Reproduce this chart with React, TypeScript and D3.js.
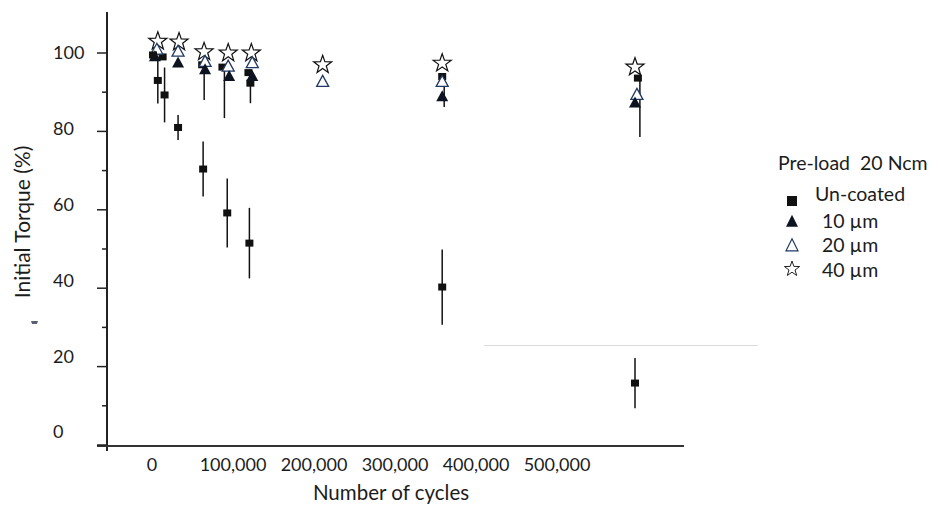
import React from 'react'
import * as d3 from 'd3'

// cycles, torque (%), optional symmetric error or lower end of bar
const uncoated = [
  { x: 0, y: 99.5 },
  { x: 5000, y: 93, err: 5.9 },
  { x: 12000, y: 89.3, err: 7 },
  { x: 26000, y: 81, err: 3.2 },
  { x: 52000, y: 70.4, err: 7 },
  { x: 77000, y: 59.2, err: 8.8 },
  { x: 100000, y: 51.5, err: 9 },
  { x: 300000, y: 40.3, err: 9.6 },
  { x: 500000, y: 15.8, err: 6.4 },
]
// dark squares hidden in the top cluster
const uncoatedTop = [
  { x: 10000, y: 99 },
  { x: 51000, y: 97, lo: 88 },
  { x: 72000, y: 96.4, lo: 83.4 },
  { x: 99000, y: 95, lo: 87.2 },
  { x: 101000, y: 92.3 },
  { x: 300000, y: 94, lo: 86.2 },
  { x: 503000, y: 93.6, lo: 78.6 },
]
const um10 = [
  { x: 2000, y: 99 },
  { x: 26000, y: 97.4 },
  { x: 54000, y: 95.7 },
  { x: 79000, y: 94 },
  { x: 103000, y: 94 },
  { x: 300000, y: 88.8 },
  { x: 500000, y: 87.2 },
]
const um20 = [
  { x: 4000, y: 100.8 },
  { x: 26000, y: 100.3 },
  { x: 54000, y: 97.7 },
  { x: 78000, y: 96.5 },
  { x: 103000, y: 97.4 },
  { x: 176000, y: 92.6 },
  { x: 300000, y: 92.6 },
  { x: 502000, y: 89.3 },
]
const um40 = [
  { x: 5000, y: 103 },
  { x: 27000, y: 102.8 },
  { x: 53000, y: 100.3 },
  { x: 78000, y: 100 },
  { x: 102000, y: 100 },
  { x: 176000, y: 97 },
  { x: 300000, y: 97.4 },
  { x: 500000, y: 96.4 },
]

const yTicks = [0, 20, 40, 60, 80, 100]
const yMinorTicks = [10, 30, 50, 70, 90]
const xTickLabels = [0, 100000, 200000, 300000, 400000, 500000]
const legendItems = ['Un-coated', '10 µm', '20 µm', '40 µm']

const FONT = 'Lato, "Open Sans", sans-serif'
const INK = '#1c1c1c'

function starPath(R: number) {
  const r = R * 0.4
  const pts: [number, number][] = []
  for (let i = 0; i < 10; i++) {
    const a = (Math.PI / 5) * i - Math.PI / 2
    const rr = i % 2 === 0 ? R : r
    pts.push([Math.cos(a) * rr, Math.sin(a) * rr])
  }
  return d3.line()(pts) + 'Z'
}

function triPath(w: number, h: number) {
  return `M0,${-h * 0.6}L${w / 2},${h * 0.4}L${-w / 2},${h * 0.4}Z`
}

function squarePath(w: number, h: number) {
  return `M${-w / 2},${-h / 2}h${w}v${h}h${-w}Z`
}

export default function App() {
  const width = 938
  const height = 506

  const x = d3.scaleLinear().domain([0, 500000]).range([153, 635])
  const y = d3.scaleLinear().domain([0, 100]).range([445, 53])
  // tick labels in the picture sit on their own spacing
  const xLabel = d3.scaleLinear().domain([0, 500000]).range([152, 557])
  const yLabel = d3.scaleLinear().domain([0, 100]).range([432, 53])
  const fmt = d3.format(',')

  const star = starPath(9.5)
  const tri = triPath(12, 11)
  const sq = squarePath(8, 7)

  return (
    <svg
      width={width}
      height={height}
      style={{ position: 'absolute', left: 0, top: 0, background: '#fff' }}
      fontFamily={FONT}
    >
      {/* axes */}
      <line x1={107} x2={107} y1={12} y2={451} stroke="#222" strokeWidth={2} />
      <line x1={97} x2={684} y1={446} y2={446} stroke="#333" strokeWidth={2} />
      {yTicks.map((t) => (
        <line key={'yt' + t} x1={97} x2={107} y1={y(t)} y2={y(t)} stroke="#222" strokeWidth={1.5} />
      ))}
      {yMinorTicks.map((t) => (
        <line key={'ym' + t} x1={102} x2={107} y1={y(t)} y2={y(t)} stroke="#222" strokeWidth={1.5} />
      ))}
      {yTicks.map((t) => (
        <text key={'yl' + t} x={53} y={yLabel(t)} dy="0.35em" fontSize={18} fill={INK}>
          {t}
        </text>
      ))}
      {xTickLabels.map((t) => (
        <text key={'xl' + t} x={xLabel(t)} y={465} dy="0.35em" textAnchor="middle" fontSize={18} fill={INK}>
          {fmt(t)}
        </text>
      ))}
      <text x={391} y={493} dy="0.35em" textAnchor="middle" fontSize={20.5} fill={INK}>
        Number of cycles
      </text>
      <text
        transform="translate(23,222) rotate(-90)"
        dy="0.35em"
        textAnchor="middle"
        fontSize={21}
        fill={INK}
      >
        Initial Torque (%)
      </text>
      {/* stray marks in the original */}
      <path d="M31,321 h7 l-1,3 h-5 Z" fill="#5a6070" />
      <line x1={484} x2={758} y1={345.5} y2={345.5} stroke="#dcdcdc" strokeWidth={1} />

      {/* error bars */}
      {uncoated
        .filter((d) => d.err)
        .map((d, i) => (
          <line key={'eu' + i} x1={x(d.x)} x2={x(d.x)} y1={y(d.y + d.err!)} y2={y(d.y - d.err!)} stroke="#111" strokeWidth={1.5} />
        ))}
      {uncoatedTop
        .filter((d) => d.lo)
        .map((d, i) => (
          <line key={'et' + i} x1={x(d.x) + 2} x2={x(d.x) + 2} y1={y(d.y)} y2={y(d.lo!)} stroke="#111" strokeWidth={1.5} />
        ))}

      {/* markers */}
      {um40.map((d, i) => (
        <path key={'s' + i} d={star} transform={`translate(${x(d.x)},${y(d.y)})`} fill="#fff" stroke="#111" strokeWidth={1.2} />
      ))}
      {uncoatedTop.map((d, i) => (
        <path key={'qt' + i} d={sq} transform={`translate(${x(d.x)},${y(d.y)})`} fill="#111" />
      ))}
      {um20.map((d, i) => (
        <path key={'o' + i} d={tri} transform={`translate(${x(d.x)},${y(d.y)})`} fill="#fff" stroke="#1f3864" strokeWidth={1.3} />
      ))}
      {um10.map((d, i) => (
        <path key={'f' + i} d={tri} transform={`translate(${x(d.x)},${y(d.y)})`} fill="#0d1320" />
      ))}
      {uncoated.map((d, i) => (
        <path key={'q' + i} d={sq} transform={`translate(${x(d.x)},${y(d.y)})`} fill="#111" />
      ))}

      {/* legend */}
      <g transform="translate(778,163)">
        <text x={0} y={0} dy="0.35em" fontSize={19.5} fill={INK}>
          Pre-load{'\u00a0\u00a0'}20 Ncm
        </text>
        {legendItems.map((name, i) => {
          const cy = [31, 58, 82, 107][i]
          const my = [38, 59, 83, 106][i]
          const tx = i === 0 ? 37 : 44
          let mark
          if (i === 0) mark = <path d={squarePath(10, 10)} fill="#111" />
          else if (i === 1) mark = <path d={triPath(12, 12)} fill="#0d1320" />
          else if (i === 2) mark = <path d={triPath(12, 12)} fill="#fff" stroke="#1f3864" strokeWidth={1.2} />
          else mark = <path d={starPath(8)} fill="#fff" stroke="#222" strokeWidth={1} />
          return (
            <g key={name}>
              <g transform={`translate(14,${my})`}>{mark}</g>
              <text x={tx} y={cy} dy="0.35em" fontSize={19.5} fill={INK}>
                {name}
              </text>
            </g>
          )
        })}
      </g>
    </svg>
  )
}
